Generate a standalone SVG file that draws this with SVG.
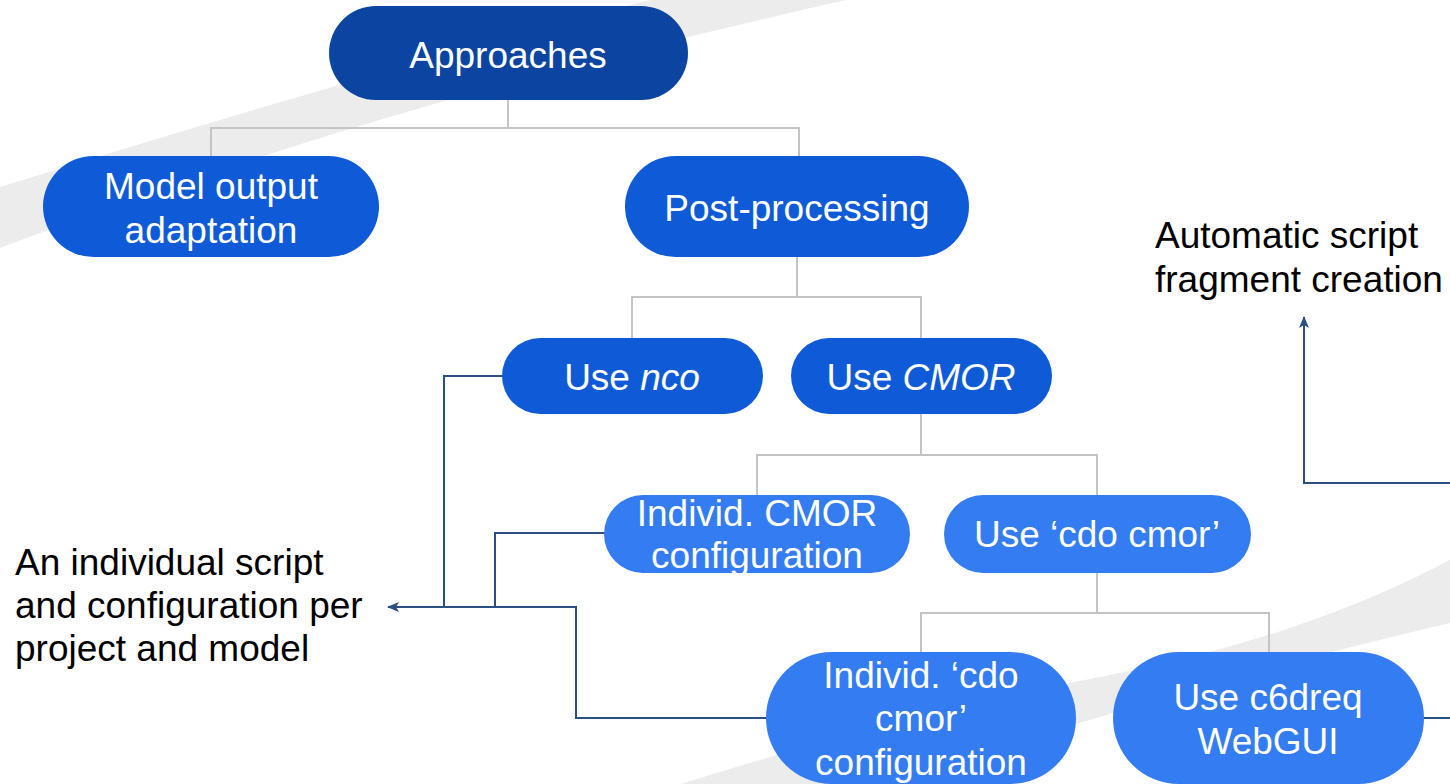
<svg xmlns="http://www.w3.org/2000/svg" width="1450" height="784" viewBox="0 0 1450 784">
<style>
  .bg { fill: #ececec; }
  .n1 { fill: #0b45a1; }
  .n2 { fill: #0f5bd7; }
  .n3 { fill: #347cf1; }
  .t { font-family: "Liberation Sans", Arial, sans-serif; font-size: 37px; fill: #ffffff; text-anchor: middle; }
  .a { font-family: "Liberation Sans", Arial, sans-serif; font-size: 37px; fill: #000000; }
  .g { fill: none; stroke: #c4c4c4; stroke-width: 2; }
  .d { fill: none; stroke: #2b4f82; stroke-width: 2; }
</style>
<defs>
  <marker id="arr" viewBox="0 0 12 10" refX="11" refY="5" markerWidth="12" markerHeight="10" markerUnits="userSpaceOnUse" orient="auto">
    <path d="M0,0 L12,5 L0,10 L3,5 Z" fill="#2b4f82"/>
  </marker>
  <clipPath id="clipCmor"><rect x="604" y="495" width="306" height="78" rx="39"/></clipPath>
</defs>
<rect x="0" y="0" width="1450" height="784" fill="#ffffff"/>
<path class="bg" d="M0,187 C200,125 450,50 650,0 L846,0 C650,45 350,115 0,248 Z"/>
<path class="bg" d="M681,784 Q900,715 1100,677 T1450,560 L1450,623 Q1250,670 1100,717 Q950,760 850,784 Z"/>

<g id="connectors">
  <path class="g" d="M508,100 V128 M211,157 V128 H799 V157"/>
  <path class="g" d="M797,257 V297 M632,338 V297 H921 V338"/>
  <path class="g" d="M921,414 V455 M757,495 V455 H1097 V495"/>
  <path class="g" d="M1097,573 V613 M921,652 V613 H1269 V652"/>
  <path class="d" d="M503,376 H444 V607"/>
  <path class="d" d="M605,533 H495 V607"/>
  <path class="d" d="M766,718 H576 V607 H388" marker-end="url(#arr)"/>
  <path class="d" d="M1424,718 H1450"/>
  <path class="d" d="M1450,483 H1304 V317" marker-end="url(#arr)"/>
</g>

<g id="node-approaches">
  <rect class="n1" x="329" y="6" width="359" height="94" rx="47"/>
  <text class="t" x="508" y="68">Approaches</text>
</g>
<g id="node-model-output">
  <rect class="n2" x="43" y="156" width="336" height="101" rx="50.5"/>
  <text class="t" x="211" y="199">Model output</text>
  <text class="t" x="211" y="243">adaptation</text>
</g>
<g id="node-post-processing">
  <rect class="n2" x="625" y="156" width="344" height="101" rx="50.5"/>
  <text class="t" x="797" y="221">Post-processing</text>
</g>
<g id="node-use-nco">
  <rect class="n2" x="502" y="338" width="261" height="76" rx="38"/>
  <text class="t" x="632" y="390">Use <tspan font-style="italic">nco</tspan></text>
</g>
<g id="node-use-cmor">
  <rect class="n2" x="791" y="338" width="261" height="76" rx="38"/>
  <text class="t" x="921" y="390">Use <tspan font-style="italic">CMOR</tspan></text>
</g>
<g id="node-individ-cmor">
  <rect class="n3" x="604" y="495" width="306" height="78" rx="39"/>
  <g clip-path="url(#clipCmor)">
    <text class="t" x="757" y="526">Individ. CMOR</text>
    <text class="t" x="757" y="568">configuration</text>
  </g>
</g>
<g id="node-use-cdo-cmor">
  <rect class="n3" x="944" y="495" width="307" height="78" rx="39"/>
  <text class="t" x="1097" y="547">Use ‘cdo cmor’</text>
</g>
<g id="node-individ-cdo-cmor">
  <rect class="n3" x="766" y="652" width="310" height="132" rx="66"/>
  <text class="t" x="921" y="688">Individ. ‘cdo</text>
  <text class="t" x="921" y="731">cmor’</text>
  <text class="t" x="921" y="775">configuration</text>
</g>
<g id="node-use-c6dreq">
  <rect class="n3" x="1113" y="652" width="311" height="132" rx="66"/>
  <text class="t" x="1268" y="710">Use c6dreq</text>
  <text class="t" x="1268" y="754">WebGUI</text>
</g>

<g id="label-automatic">
  <text class="a" x="1155" y="248">Automatic script</text>
  <text class="a" x="1155" y="292">fragment creation</text>
</g>
<g id="label-individual">
  <text class="a" x="15" y="575">An individual script</text>
  <text class="a" x="15" y="618">and configuration per</text>
  <text class="a" x="15" y="661">project and model</text>
</g>
</svg>
